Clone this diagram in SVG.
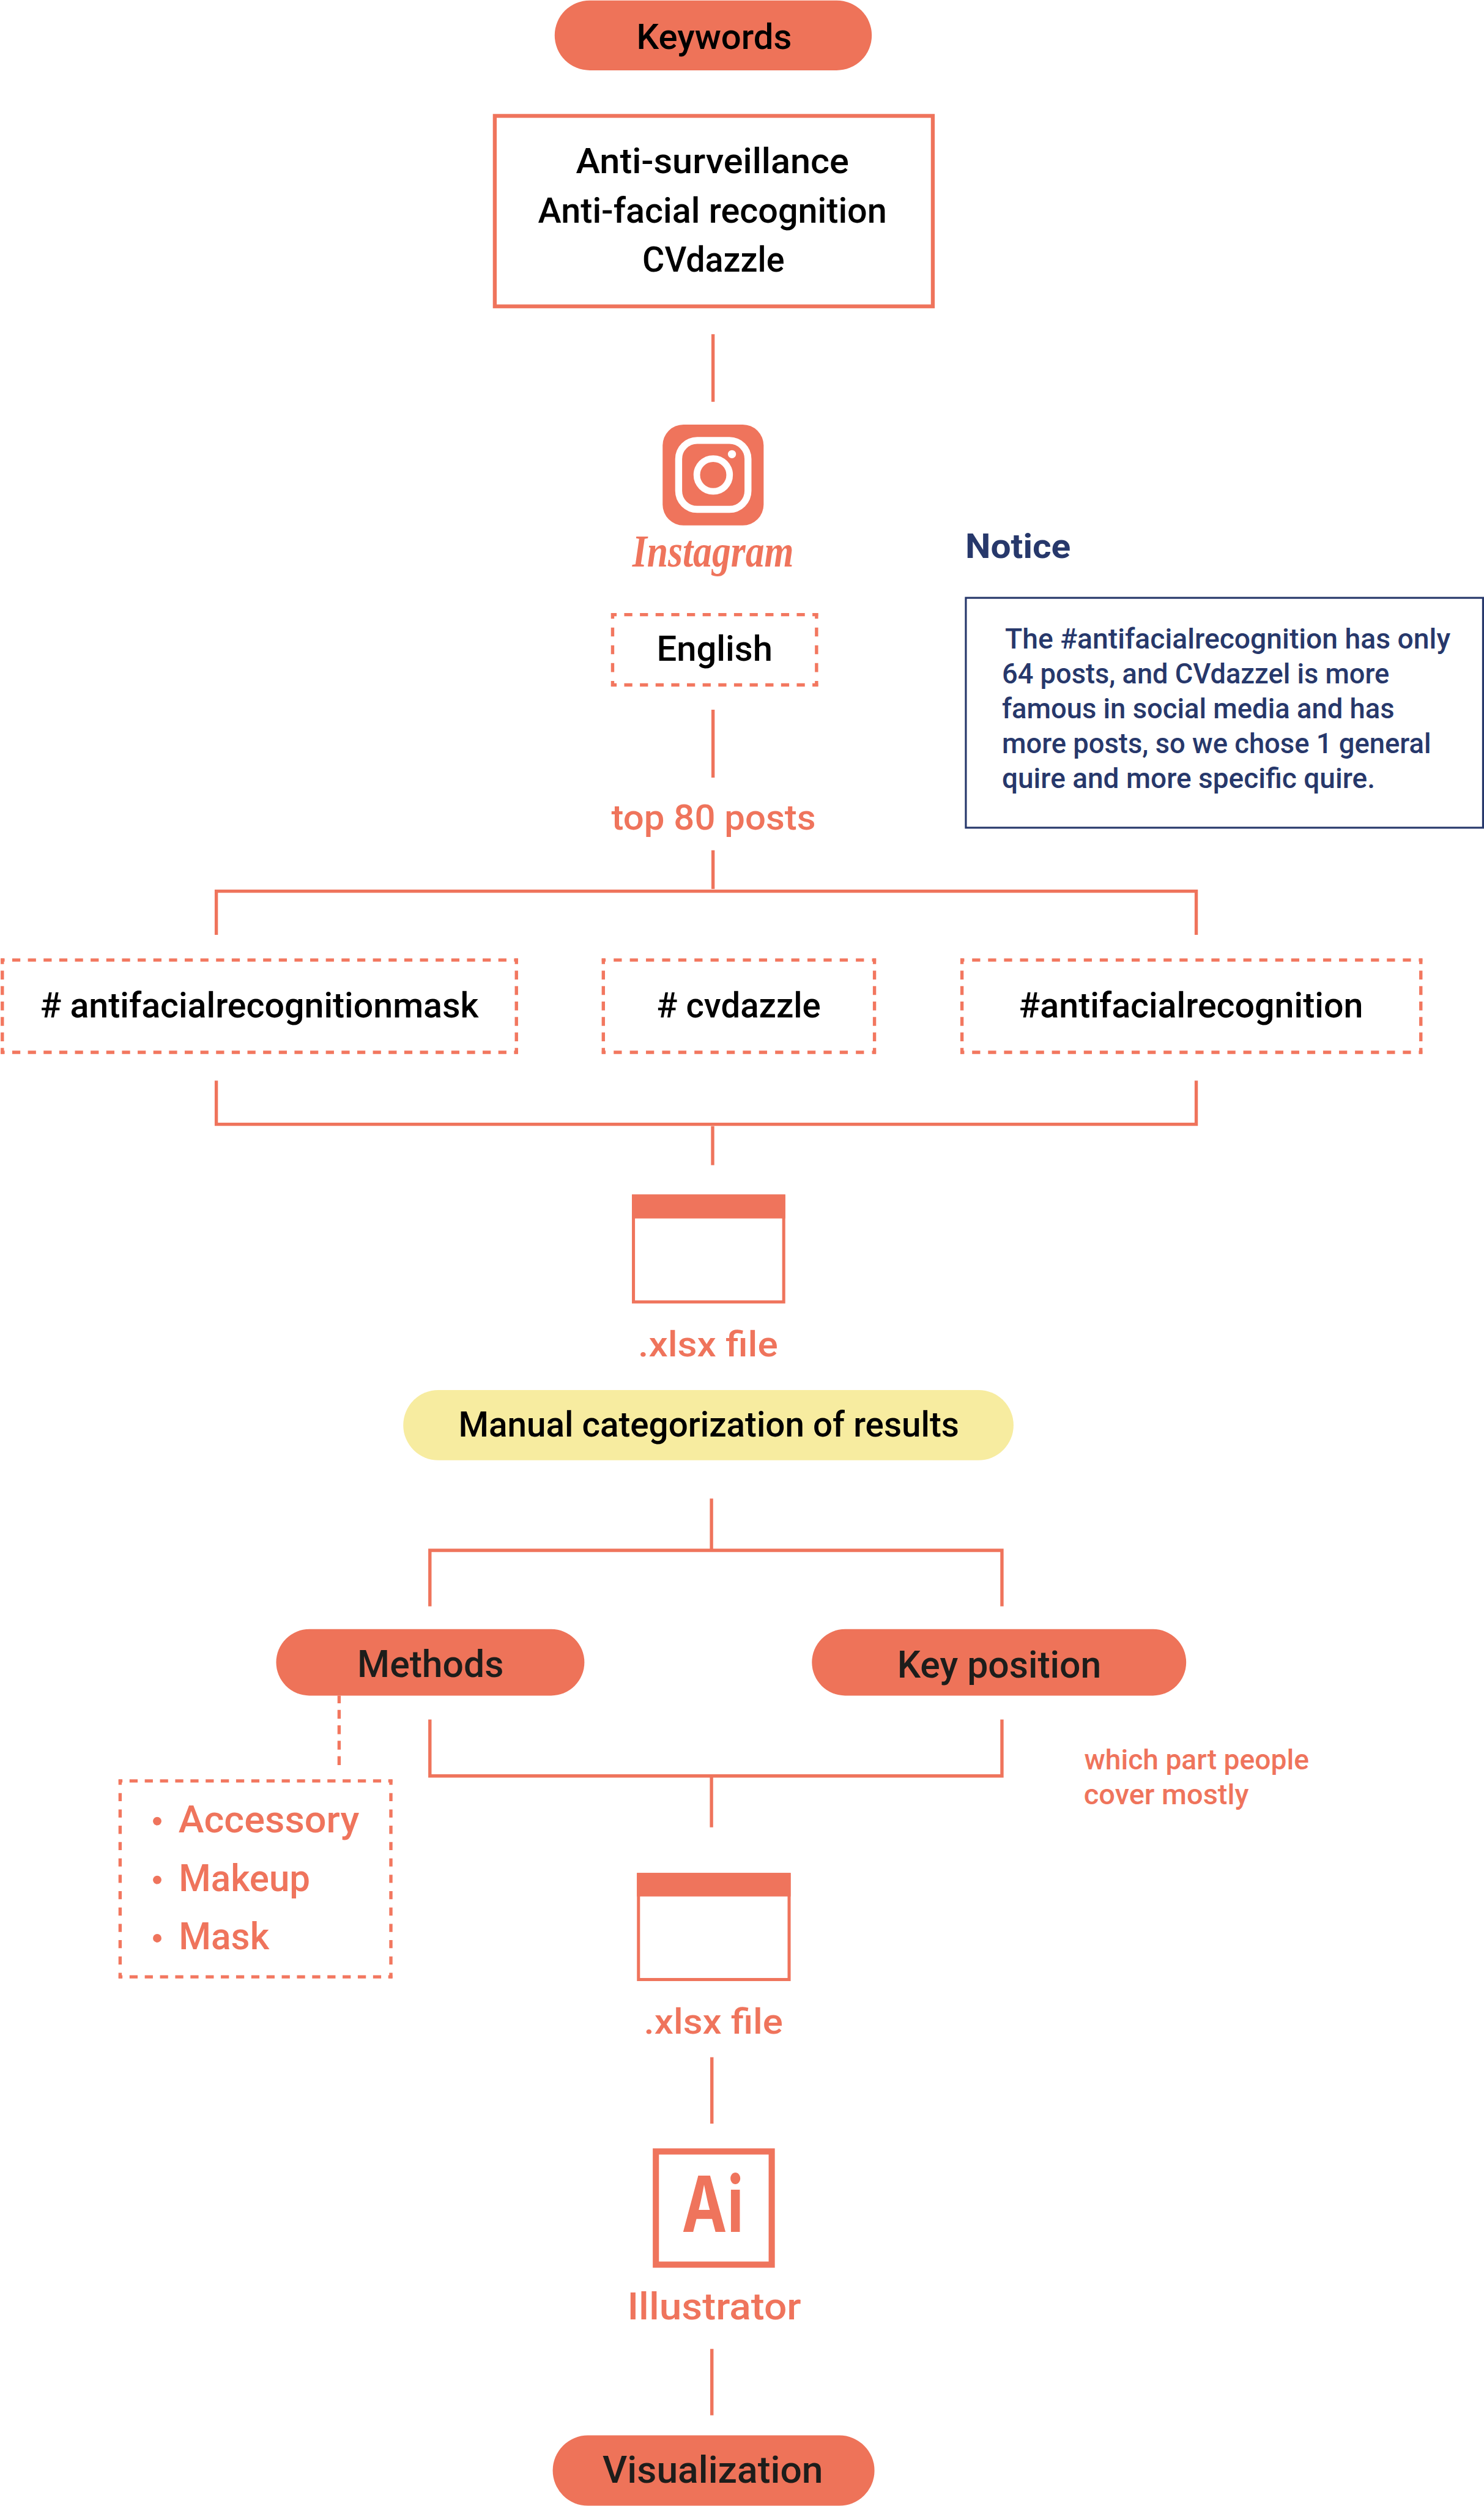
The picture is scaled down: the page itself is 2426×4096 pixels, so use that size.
<svg xmlns="http://www.w3.org/2000/svg" width="2426" height="4096" viewBox="0 0 2426 4096">
<style>
text{font-family:Roboto,"Liberation Sans",sans-serif;font-size:91px;font-weight:500;fill:#000}
.o{fill:#ef745c}
.k{fill:#1d1d1b}
.n{fill:#27386b;font-size:72px}
.big{font-size:98px}
.s{font-size:72px}
.pill{fill:#ee7359}
.solid{fill:none;stroke:#ef745c;stroke-width:8.5}
.dash{stroke:#f2775f;stroke-width:8.5;fill:none}
.file{fill:none;stroke:#ef745c;stroke-width:8}
.head{fill:#ef745c}
</style>
<rect width="2426" height="4096" fill="#fff"/>
<g transform="scale(0.63144)">
<g id="connectors">
<path class="solid" d="M1846 865V1040M1846 1837V2013M1846 2201V2301"/>
<path class="solid" d="M560 2420V2306.8H3097V2420"/>
<path class="solid" d="M560 2797V2910.3H3097V2797"/>
<path class="solid" d="M1845 2915V3016"/>
<path class="solid" d="M1842 3879V4010"/>
<path class="solid" d="M1113 4158V4013H2594V4158"/>
<path class="solid" d="M1113 4451V4597H2594V4451"/>
<path class="solid" d="M1842 4600V4730"/>
<path class="solid" d="M1843 5325V5497M1843 6080V6252"/>
<line class="dash" x1="878" y1="4389" x2="878" y2="4575" stroke-dasharray="23 17" stroke-dashoffset="3"/>
</g>
<g id="keywords"><rect class="pill" x="1436" y="1" width="821" height="181" rx="91"/><text x="1648" y="127" textLength="402" lengthAdjust="spacingAndGlyphs">Keywords</text></g>
<g id="keyword-list"><rect x="1281" y="300" width="1134" height="493" fill="none" stroke="#ef745c" stroke-width="10"/>
<text x="1491" y="448" textLength="707" lengthAdjust="spacingAndGlyphs">Anti-surveillance</text>
<text x="1393" y="576" textLength="903" lengthAdjust="spacingAndGlyphs">Anti-facial recognition</text>
<text x="1663" y="703" textLength="368" lengthAdjust="spacingAndGlyphs">CVdazzle</text></g>
<g id="instagram">
<rect x="1715.5" y="1099" width="261.5" height="261" rx="54" class="head"/>
<rect x="1757" y="1140" width="179.5" height="178.5" rx="48" fill="none" stroke="#fff" stroke-width="18"/>
<circle cx="1846.5" cy="1229.5" r="42.5" fill="none" stroke="#fff" stroke-width="17"/>
<circle cx="1895" cy="1175.5" r="10.5" fill="#fff"/>
<text class="o" x="1637" y="1467" style="font-family:'Liberation Serif',serif;font-style:italic;font-weight:700;font-size:118px" textLength="418" lengthAdjust="spacingAndGlyphs">Instagram</text>
</g>
<g id="english">
<line class="dash" x1="1582" y1="1591" x2="2118" y2="1591" stroke-dasharray="21 19.6" stroke-dashoffset="6.5"/>
<line class="dash" x1="1582" y1="1773" x2="2118" y2="1773" stroke-dasharray="21 19.6" stroke-dashoffset="6.5"/>
<line class="dash" x1="1586" y1="1587" x2="1586" y2="1777" stroke-dasharray="23 23" stroke-dashoffset="8.5"/>
<line class="dash" x1="2114" y1="1587" x2="2114" y2="1777" stroke-dasharray="23 23" stroke-dashoffset="8.5"/>
<text x="1700" y="1711" textLength="300" lengthAdjust="spacingAndGlyphs">English</text></g>
<g id="top80"><text class="o" x="1583" y="2147" textLength="529" lengthAdjust="spacingAndGlyphs">top 80 posts</text></g>
<g id="notice"><text x="2499" y="1445" textLength="273" lengthAdjust="spacingAndGlyphs" style="fill:#27386b;font-weight:700;font-size:88px">Notice</text>
<rect x="2500.5" y="1547.5" width="1339" height="595" fill="none" stroke="#27386b" stroke-width="5"/>
<text class="n" x="2602" y="1679" textLength="1153" lengthAdjust="spacingAndGlyphs">The #antifacialrecognition has only</text>
<text class="n" x="2594" y="1769" textLength="1003" lengthAdjust="spacingAndGlyphs">64 posts, and CVdazzel is more</text>
<text class="n" x="2594" y="1859" textLength="1016" lengthAdjust="spacingAndGlyphs">famous in social media and has</text>
<text class="n" x="2594" y="1949" textLength="1111" lengthAdjust="spacingAndGlyphs">more posts, so we chose 1 general</text>
<text class="n" x="2594" y="2039" textLength="966" lengthAdjust="spacingAndGlyphs">quire and more specific quire.</text></g>
<g id="tag-mask">
<line class="dash" x1="2" y1="2485" x2="1341" y2="2485" stroke-dasharray="21 19.6" stroke-dashoffset="11"/>
<line class="dash" x1="2" y1="2724" x2="1341" y2="2724" stroke-dasharray="21 19.6" stroke-dashoffset="11"/>
<line class="dash" x1="6" y1="2481" x2="6" y2="2728" stroke-dasharray="23 17" stroke-dashoffset="8.5"/>
<line class="dash" x1="1337" y1="2481" x2="1337" y2="2728" stroke-dasharray="23 17" stroke-dashoffset="8.5"/>
<text x="104" y="2633" textLength="1135" lengthAdjust="spacingAndGlyphs"># antifacialrecognitionmask</text></g>
<g id="tag-cvdazzle">
<line class="dash" x1="1558" y1="2485" x2="2268" y2="2485" stroke-dasharray="21 20.8" stroke-dashoffset="11"/>
<line class="dash" x1="1558" y1="2724" x2="2268" y2="2724" stroke-dasharray="21 20.8" stroke-dashoffset="11"/>
<line class="dash" x1="1562" y1="2481" x2="1562" y2="2728" stroke-dasharray="23 17" stroke-dashoffset="8.5"/>
<line class="dash" x1="2264" y1="2481" x2="2264" y2="2728" stroke-dasharray="23 17" stroke-dashoffset="8.5"/>
<text x="1700" y="2633" textLength="425" lengthAdjust="spacingAndGlyphs"># cvdazzle</text></g>
<g id="tag-recognition">
<line class="dash" x1="2486.5" y1="2485" x2="3682.5" y2="2485" stroke-dasharray="21 20.3" stroke-dashoffset="11"/>
<line class="dash" x1="2486.5" y1="2724" x2="3682.5" y2="2724" stroke-dasharray="21 20.3" stroke-dashoffset="11"/>
<line class="dash" x1="2490.5" y1="2481" x2="2490.5" y2="2728" stroke-dasharray="23 17" stroke-dashoffset="8.5"/>
<line class="dash" x1="3678.5" y1="2481" x2="3678.5" y2="2728" stroke-dasharray="23 17" stroke-dashoffset="8.5"/>
<text x="2638" y="2633" textLength="891" lengthAdjust="spacingAndGlyphs">#antifacialrecognition</text></g>
<g id="file-1"><rect class="file" x="1640" y="3096" width="389" height="274"/><rect class="head" x="1636" y="3092" width="397" height="62"/>
<text class="o" x="1652" y="3511" textLength="362" lengthAdjust="spacingAndGlyphs">.xlsx file</text></g>
<g id="manual"><rect x="1044" y="3598" width="1580" height="182" rx="91" fill="#f7eca0"/><text x="1187" y="3718" textLength="1296" lengthAdjust="spacingAndGlyphs">Manual categorization of results</text></g>
<g id="methods"><rect class="pill" x="715" y="4217" width="798" height="172" rx="86"/><text class="k big" x="925" y="4341" textLength="379" lengthAdjust="spacingAndGlyphs">Methods</text></g>
<g id="key-position"><rect class="pill" x="2102" y="4217" width="969" height="172" rx="86"/><text class="k big" x="2323" y="4342" textLength="528" lengthAdjust="spacingAndGlyphs">Key position</text></g>
<g id="key-note"><text class="o s" x="2807" y="4580" textLength="582" lengthAdjust="spacingAndGlyphs">which part people</text><text class="o s" x="2806" y="4670" textLength="427" lengthAdjust="spacingAndGlyphs">cover mostly</text></g>
<g id="method-list">
<line class="dash" x1="307" y1="4610" x2="1016" y2="4610" stroke-dasharray="21 18.4" stroke-dashoffset="11"/>
<line class="dash" x1="307" y1="5117" x2="1016" y2="5117" stroke-dasharray="21 18.4" stroke-dashoffset="11"/>
<line class="dash" x1="311" y1="4606" x2="311" y2="5121" stroke-dasharray="21 21.3" stroke-dashoffset="7"/>
<line class="dash" x1="1012" y1="4606" x2="1012" y2="5121" stroke-dasharray="21 21.3" stroke-dashoffset="7"/>
<circle class="o" cx="407" cy="4714" r="11"/><circle class="o" cx="407" cy="4866" r="11"/><circle class="o" cx="407" cy="5017" r="11"/>
<text class="o big" x="462" y="4743" textLength="468" lengthAdjust="spacingAndGlyphs">Accessory</text>
<text class="o big" x="463" y="4895" textLength="340" lengthAdjust="spacingAndGlyphs">Makeup</text>
<text class="o big" x="463" y="5046" textLength="234" lengthAdjust="spacingAndGlyphs">Mask</text></g>
<g id="file-2"><rect class="file" x="1653" y="4852" width="390" height="272"/><rect class="head" x="1649" y="4848" width="398" height="61"/>
<text class="o" x="1667" y="5264" textLength="360" lengthAdjust="spacingAndGlyphs">.xlsx file</text></g>
<g id="illustrator"><rect x="1698" y="5569" width="300" height="293" fill="none" stroke="#ef745c" stroke-width="16"/>
<text class="o" x="1765" y="5776.5" textLength="160" lengthAdjust="spacingAndGlyphs" style="font-family:Inter,sans-serif;font-weight:700;font-size:200px">Ai</text>
<text class="o big" x="1624" y="6004" textLength="450" lengthAdjust="spacingAndGlyphs">Illustrator</text></g>
<g id="visualization"><rect class="pill" x="1431" y="6304" width="833" height="182" rx="91"/><text class="k big" x="1560" y="6426" textLength="571" lengthAdjust="spacingAndGlyphs">Visualization</text></g>
</g>
</svg>
